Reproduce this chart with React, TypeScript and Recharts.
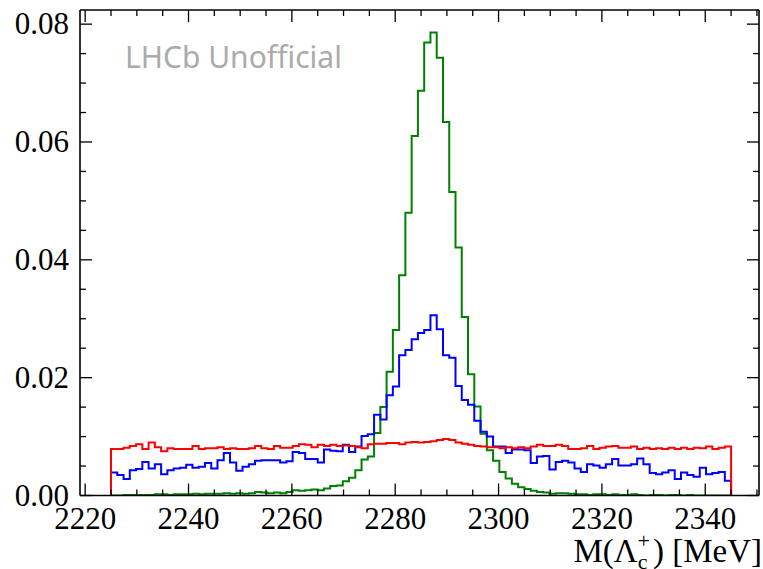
import { Label, Line, LineChart, XAxis, YAxis } from "recharts";

// histogram binning: 99 bins between 2225 and 2345 MeV
const histLo = 2225;
const histHi = 2345;
const nBins = 99;

// bin contents
const redCounts = [
  0.0079, 0.0079, 0.0081, 0.0084, 0.0087, 0.0079, 0.009, 0.0082, 0.0075, 0.008,
  0.0079, 0.0079, 0.0079, 0.0084, 0.0079, 0.008, 0.008, 0.0082, 0.0079, 0.008,
  0.0079, 0.0079, 0.008, 0.0084, 0.008, 0.0079, 0.0084, 0.0081, 0.0081, 0.0084,
  0.0087, 0.0086, 0.0082, 0.0086, 0.0084, 0.0086, 0.0084, 0.0085, 0.0084, 0.0082,
  0.008, 0.0087, 0.0088, 0.0088, 0.0089, 0.0089, 0.0087, 0.009, 0.0091, 0.009,
  0.0091, 0.0092, 0.0094, 0.0096, 0.0094, 0.009, 0.0088, 0.0086, 0.0084, 0.0083,
  0.0082, 0.0082, 0.008, 0.0082, 0.008, 0.0082, 0.008, 0.0083, 0.0086, 0.0084,
  0.0084, 0.0086, 0.0084, 0.0079, 0.0079, 0.008, 0.0084, 0.0079, 0.0081, 0.0083,
  0.0084, 0.0081, 0.0081, 0.0083, 0.0079, 0.0081, 0.0079, 0.008, 0.0079, 0.0081,
  0.0079, 0.0081, 0.0079, 0.0081, 0.008, 0.0083, 0.0079, 0.0081, 0.0083,
];

const blueCounts = [
  0.0039, 0.0035, 0.0028, 0.0043, 0.0045, 0.0057, 0.0046, 0.0053, 0.0036, 0.0043,
  0.0046, 0.0047, 0.0052, 0.0047, 0.0049, 0.0055, 0.0046, 0.006, 0.0072, 0.0056,
  0.0042, 0.0049, 0.0053, 0.0059, 0.006, 0.006, 0.006, 0.0056, 0.0058, 0.0074,
  0.0072, 0.0062, 0.0062, 0.0056, 0.0078, 0.0076, 0.0075, 0.0086, 0.0074, 0.0083,
  0.0101, 0.0104, 0.0137, 0.0129, 0.017, 0.0185, 0.0238, 0.0247, 0.0265, 0.0276,
  0.0281, 0.0306, 0.0282, 0.0238, 0.0234, 0.0186, 0.0162, 0.0154, 0.0127, 0.0108,
  0.01, 0.0083, 0.0083, 0.0072, 0.0078, 0.0078, 0.0077, 0.0055, 0.0066, 0.0067,
  0.0044, 0.0057, 0.0059, 0.0056, 0.0046, 0.004, 0.0053, 0.0051, 0.0047, 0.0053,
  0.0062, 0.0051, 0.0051, 0.0053, 0.0063, 0.0053, 0.0038, 0.0036, 0.0039, 0.0043,
  0.0028, 0.0039, 0.0035, 0.0032, 0.0047, 0.0036, 0.0038, 0.004, 0.0025,
];

const greenCounts = [
  0, 0, 0.0001, 0.0001, 0.0001, 0.0001, 0.0001, 0.0002, 0.0002, 0.0001,
  0.0002, 0.0002, 0.0002, 0.0003, 0.0002, 0.0003, 0.0003, 0.0003, 0.0004, 0.0003,
  0.0004, 0.0003, 0.0004, 0.0006, 0.0005, 0.0004, 0.0005, 0.0004, 0.0006, 0.0009,
  0.0008, 0.0009, 0.001, 0.0009, 0.0012, 0.0016, 0.0017, 0.0024, 0.003, 0.0043,
  0.0061, 0.0066, 0.0106, 0.015, 0.021, 0.0281, 0.0374, 0.048, 0.061, 0.0687,
  0.0769, 0.0786, 0.0743, 0.0634, 0.0515, 0.0421, 0.0303, 0.0206, 0.0151, 0.0105,
  0.0077, 0.0059, 0.004, 0.0029, 0.002, 0.0014, 0.0011, 0.0008, 0.0006, 0.0005,
  0.0003, 0.0004, 0.0004, 0.0003, 0.0002, 0.0002, 0.0001, 0.0002, 0.0002, 0.0001,
  0.0002, 0.0001, 0.0001, 0.0002, 0.0001, 0, 0.0001, 0.0001, 0, 0.0001,
  0.0001, 0, 0.0001, 0, 0, 0, 0, 0, 0,
];

const xLabels = [2220, 2240, 2260, 2280, 2300, 2320, 2340];
const yLabels = [0, 0.02, 0.04, 0.06, 0.08];

const xMinor = Array.from({ length: 27 }, (_, i) => 2220 + i * 5);
const yMinor = Array.from({ length: 17 }, (_, i) => Math.round(i * 5) / 1000);

// step-histogram rows: rise from 0 at the first edge, drop to 0 at the last
const binWidth = (histHi - histLo) / nBins;
const rows = [
  { m: histLo, red: 0, blue: 0, green: 0 },
  ...redCounts.map((_, i) => ({
    m: histLo + i * binWidth,
    red: redCounts[i],
    blue: blueCounts[i],
    green: greenCounts[i],
  })),
  {
    m: histHi,
    red: redCounts[nBins - 1],
    blue: blueCounts[nBins - 1],
    green: greenCounts[nBins - 1],
  },
  { m: histHi, red: 0, blue: 0, green: 0 },
];

const serif = "'Liberation Serif', 'Times New Roman', serif";
const tickFont = 31;

const isMajorX = (v: number) => xLabels.includes(v);
const isMajorY = (v: number) => yLabels.some((l) => Math.abs(l - v) < 1e-9);

function BottomTick({ x, y, payload }: any) {
  const major = isMajorX(payload.value);
  return (
    <g>
      <line x1={x} x2={x} y1={y} y2={y - (major ? 12 : 6)} stroke="#000" strokeWidth={1.3} />
      {major && (
        <text x={x} y={y + 33} textAnchor="middle" fontFamily={serif} fontSize={tickFont} fill="#000">
          {payload.value}
        </text>
      )}
    </g>
  );
}

function TopTick({ x, y, payload }: any) {
  const major = isMajorX(payload.value);
  return <line x1={x} x2={x} y1={y} y2={y + (major ? 12 : 6)} stroke="#000" strokeWidth={1.3} />;
}

function LeftTick({ x, y, payload }: any) {
  const major = isMajorY(payload.value);
  return (
    <g>
      <line x1={x} x2={x + (major ? 12 : 6)} y1={y} y2={y} stroke="#000" strokeWidth={1.3} />
      {major && (
        <text x={x - 11} y={y + 10} textAnchor="end" fontFamily={serif} fontSize={tickFont} fill="#000">
          {payload.value.toFixed(2)}
        </text>
      )}
    </g>
  );
}

function RightTick({ x, y, payload }: any) {
  const major = isMajorY(payload.value);
  return <line x1={x} x2={x - (major ? 12 : 6)} y1={y} y2={y} stroke="#000" strokeWidth={1.3} />;
}

function XTitle({ viewBox }: any) {
  const right = viewBox.x + viewBox.width + 3;
  return (
    <text x={right} y={viewBox.y + 66} textAnchor="end" fontFamily={serif} fontSize={33} fill="#000">
      M(Λ
      <tspan fontSize={22} dy={7}>c</tspan>
      <tspan fontSize={22} dx={-10} dy={-21}>+</tspan>
      <tspan dx={3} dy={14}>) [MeV]</tspan>
    </text>
  );
}

function Watermark({ viewBox }: any) {
  return (
    <text x={viewBox.x + 45} y={viewBox.y + viewBox.height + 58} fontFamily="'Noto Sans', sans-serif" fontSize={30} fill="#ababab">
      LHCb Unofficial
    </text>
  );
}

export default function App() {
  return (
    <div style={{ position: "absolute", left: 0, top: 0, width: 763, height: 569, background: "#fff" }}>
      <LineChart width={763} height={569} data={rows} margin={{ top: 0, right: 0, bottom: 0, left: 0 }}>
        <XAxis
          xAxisId="b"
          dataKey="m"
          type="number"
          domain={[2219, 2350.4]}
          allowDataOverflow
          ticks={xMinor}
          interval={0}
          tick={<BottomTick />}
          tickLine={false}
          tickSize={0}
          tickMargin={0}
          height={73.5}
          axisLine={{ stroke: "#000", strokeWidth: 1.6 }}
        >
          <Label content={<XTitle />} />
        </XAxis>
        <XAxis
          xAxisId="t"
          orientation="top"
          dataKey="m"
          type="number"
          domain={[2219, 2350.4]}
          allowDataOverflow
          ticks={xMinor}
          interval={0}
          tick={<TopTick />}
          tickLine={false}
          tickSize={0}
          tickMargin={0}
          height={10}
          axisLine={{ stroke: "#000", strokeWidth: 1.6 }}
        >
          <Label content={<Watermark />} />
        </XAxis>
        <YAxis
          yAxisId="l"
          type="number"
          domain={[0, 0.0824]}
          allowDataOverflow
          ticks={yMinor}
          interval={0}
          tick={<LeftTick />}
          tickLine={false}
          tickSize={0}
          tickMargin={0}
          width={80}
          axisLine={{ stroke: "#000", strokeWidth: 1.6 }}
        />
        <YAxis
          yAxisId="r"
          orientation="right"
          type="number"
          domain={[0, 0.0824]}
          allowDataOverflow
          ticks={yMinor}
          interval={0}
          tick={<RightTick />}
          tickLine={false}
          tickSize={0}
          tickMargin={0}
          width={4}
          axisLine={{ stroke: "#000", strokeWidth: 1.6 }}
        />
        <Line xAxisId="b" yAxisId="l" type="stepAfter" dataKey="green" stroke="#008000" strokeWidth={2} dot={false} activeDot={false} isAnimationActive={false} />
        <Line xAxisId="b" yAxisId="l" type="stepAfter" dataKey="blue" stroke="#0000ff" strokeWidth={2} dot={false} activeDot={false} isAnimationActive={false} />
        <Line xAxisId="b" yAxisId="l" type="stepAfter" dataKey="red" stroke="#ff0000" strokeWidth={2} dot={false} activeDot={false} isAnimationActive={false} />
      </LineChart>
    </div>
  );
}
